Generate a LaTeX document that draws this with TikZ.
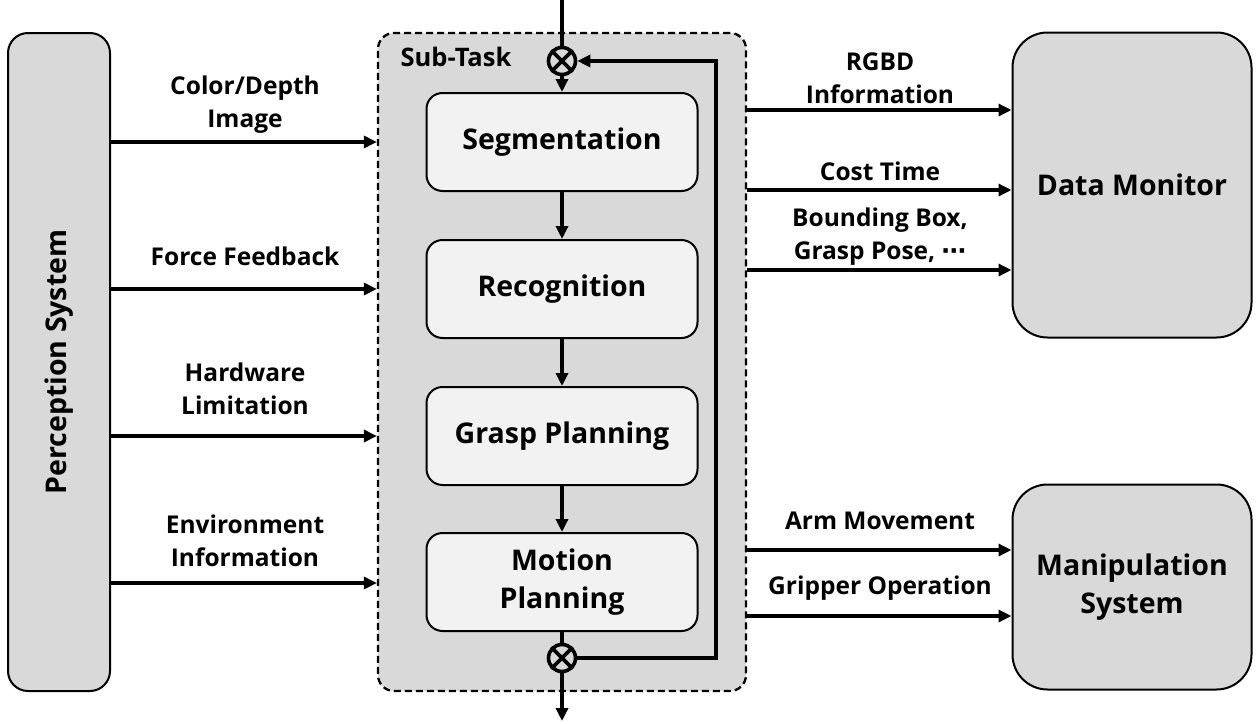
\documentclass[tikz,border=0pt]{standalone}
\usepackage{fontspec}
\setmainfont{Open Sans}
\newfontfamily\dejavu{DejaVu Sans}
\usetikzlibrary{arrows.meta}
\definecolor{boxgray}{HTML}{D9D9D9}
\definecolor{innergray}{HTML}{F2F2F2}
\begin{document}
\begin{tikzpicture}[x=1pt,y=-1pt,
  bigfont/.style={font=\fontsize{28.5}{38}\selectfont\bfseries},
  lblfont/.style={font=\fontsize{24.5}{33}\selectfont\bfseries},
  sysbox/.style={draw,line width=2pt,fill=boxgray,align=center,inner sep=0pt,bigfont},
  stagebox/.style={draw,line width=2pt,fill=innergray,rounded corners=16pt,align=center,inner sep=0pt,
     minimum width=271pt,minimum height=98pt,bigfont},
  lbl/.style={align=center,inner sep=0pt,lblfont},
  conn/.style={line width=3.6pt,-{Triangle[length=13pt,width=12pt]}},
  plain/.style={line width=3.6pt},
  mult/.style={circle,draw,line width=3.6pt,fill=boxgray,minimum size=27pt,inner sep=0pt},
]
\useasboundingbox (0,0) rectangle (1258,723);
% Perception system
\node[sysbox,rounded corners=20pt,minimum width=102pt,minimum height=658pt] (perc) at (59,362) {};
\node[bigfont,rotate=90,inner sep=0pt] (perctext) at (59,362) {Perception System};
% Sub-task container
\node[draw,line width=2.3pt,dash pattern=on 7pt off 4pt,fill=boxgray,rounded corners=16pt,
      minimum width=368pt,minimum height=658pt,inner sep=0pt] (sub) at (562,362) {};
\node[lbl,font=\fontsize{25.5}{30}\selectfont\bfseries] (subtitle) at (456,57) {Sub-Task};
% Stages
\node[stagebox] (seg) at (562,142) {Segmentation};
\node[stagebox] (rec) at (562,289) {Recognition};
\node[stagebox] (gp) at (562,436) {Grasp Planning};
\node[stagebox] (mp) at (562,582) {Motion\\Planning};
% Multipliers
\node[mult] (cx1) at (562,61) {};
\draw[line width=3.6pt] (cx1.45) -- (cx1.225) (cx1.135) -- (cx1.315);
\node[mult] (cx2) at (562,658) {};
\draw[line width=3.6pt] (cx2.45) -- (cx2.225) (cx2.135) -- (cx2.315);
% Right boxes
\node[sysbox,rounded corners=35pt,minimum width=239pt,minimum height=305pt] (dm) at (1132,185) {Data Monitor};
\node[sysbox,rounded corners=35pt,minimum width=239pt,minimum height=205pt] (ms) at (1132,587) {Manipulation\\System};
% Coordinates
\coordinate (topin) at (562,0);
\coordinate (botout) at (562,721);
\coordinate (loopc) at (716,360);
% Main flow
\draw[plain] (topin) -- (cx1.north);
\draw[conn] (cx1) -- (seg);
\draw[conn] (seg) -- (rec);
\draw[conn] (rec) -- (gp);
\draw[conn] (gp) -- (mp);
\draw[plain] (mp) -- (cx2);
\draw[conn] (cx2) -- (botout);
\draw[conn,line join=miter] (cx2.east) -| (loopc) |- (cx1.east);
% Inputs
\draw[conn] (perc.east |- 0,142) -- (sub.west |- 0,142);
\draw[conn] (perc.east |- 0,289) -- (sub.west |- 0,289);
\draw[conn] (perc.east |- 0,436) -- (sub.west |- 0,436);
\draw[conn] (perc.east |- 0,583) -- (sub.west |- 0,583);
\node[lbl] (l1) at (245,105) {Color/Depth\\Image};
\node[lbl] (l2) at (245,256) {Force Feedback};
\node[lbl] (l3) at (245,389) {Hardware\\Limitation};
\node[lbl] (l4) at (245,541) {Environment\\Information};
% Outputs
\draw[conn] (sub.east |- 0,110) -- (dm.west |- 0,110);
\draw[conn] (sub.east |- 0,190) -- (dm.west |- 0,190);
\draw[conn] (sub.east |- 0,270) -- (dm.west |- 0,270);
\draw[conn] (sub.east |- 0,550) -- (ms.west |- 0,550);
\draw[conn] (sub.east |- 0,616) -- (ms.west |- 0,616);
\node[lbl] (r1) at (880,78) {RGBD\\Information};
\node[lbl] (r2) at (880,171) {Cost Time};
\node[lbl] (r3) at (880,237) {Bounding Box,\\Grasp Pose, {\dejavu\bfseries ⋯}};
\node[lbl] (r4) at (880,521) {Arm Movement};
\node[lbl] (r5) at (880,588) {Gripper Operation};
\end{tikzpicture}
\end{document}
